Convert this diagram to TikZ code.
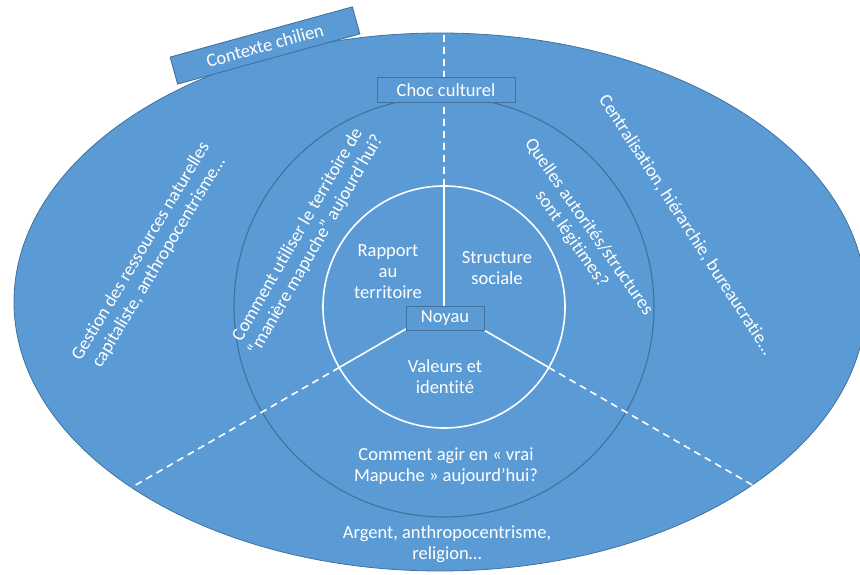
\documentclass[tikz,border=0pt]{standalone}
\usepackage{fontspec}
\setmainfont{Carlito}[Ligatures={NoCommon}]
\definecolor{fondbleu}{HTML}{5B9BD5}
\definecolor{bordbleu}{HTML}{41719C}

\begin{document}
\begin{tikzpicture}[x=1pt,y=1pt, line join=round, line cap=round, font=\fontsize{18.5}{21}\selectfont,
    etiq/.style={text=white, align=center, inner sep=1pt},
    cadre/.style={draw=bordbleu, fill=fondbleu, line width=0.9pt, text=white, inner sep=0pt, minimum height=25pt},
    rayon/.style={white, line width=1.6pt},
    pointille/.style={white, line width=1.6pt, line cap=butt, dash pattern=on 7pt off 5pt}]
  \def \rmil{210};
  \def \rnoy{121};
  \useasboundingbox (0,0) rectangle (860,575);
  % fond : contexte
  \draw[bordbleu, fill=fondbleu, line width=0.8pt] (440,273) ellipse (426 and 269);
  \node[cadre, rotate=15.4, minimum width=189pt, minimum height=28pt] (contexte) at (265,529.5) {Contexte chilien};
  % cercles
  \coordinate (c) at (444,268);
  \draw[bordbleu, line width=1.1pt] (c) circle (\rmil);
  \draw[rayon] (c) circle (\rnoy);
  % rayons et limites
  \path (c) ++(90:\rnoy) coordinate (n1) (c) ++(210:\rnoy) coordinate (n2) (c) ++(330:\rnoy) coordinate (n3);
  \path (c) ++(90:274) coordinate (e1) (c) ++(210:361) coordinate (e2) (c) ++(330:356) coordinate (e3);
  \draw[rayon] (c) -- (n1) (c) -- (n2) (c) -- (n3);
  \draw[pointille] (n1) -- (e1) (n2) -- (e2) (n3) -- (e3);
  \node[cadre, minimum width=138pt] (choc) at (446,485) {Choc culturel};
  \node[cadre, minimum width=78pt, minimum height=24pt] (noyau) at (445,257) {Noyau};
  % noyau
  \node[etiq] (rapport) at (388,303) {Rapport\\au\\territoire};
  \node[etiq] (structure) at (497,307) {Structure\\sociale};
  \node[etiq] (valeurs) at (445,198) {Valeurs et\\identité};
  % choc culturel
  \node[etiq, rotate=60] (utiliser) at (307,335) {Comment utiliser le territoire de\\“manière mapuche” aujourd’hui?};
  \node[etiq, rotate=-55] (autorites) at (580,342) {Quelles autorités/structures\\sont légitimes?};
  \node[etiq] (agir) at (446,109) {Comment agir en « vrai\\Mapuche » aujourd’hui?};
  % contexte chilien
  \node[etiq, rotate=59] (gestion) at (150,318) {Gestion des ressources naturelles\\capitaliste, anthropocentrisme…};
  \node[etiq, rotate=-57] (central) at (686,350) {Centralisation, hiérarchie, bureaucratie…};
  \node[etiq] (argent) at (447,31) {Argent, anthropocentrisme,\\religion…};
\end{tikzpicture}
\end{document}
